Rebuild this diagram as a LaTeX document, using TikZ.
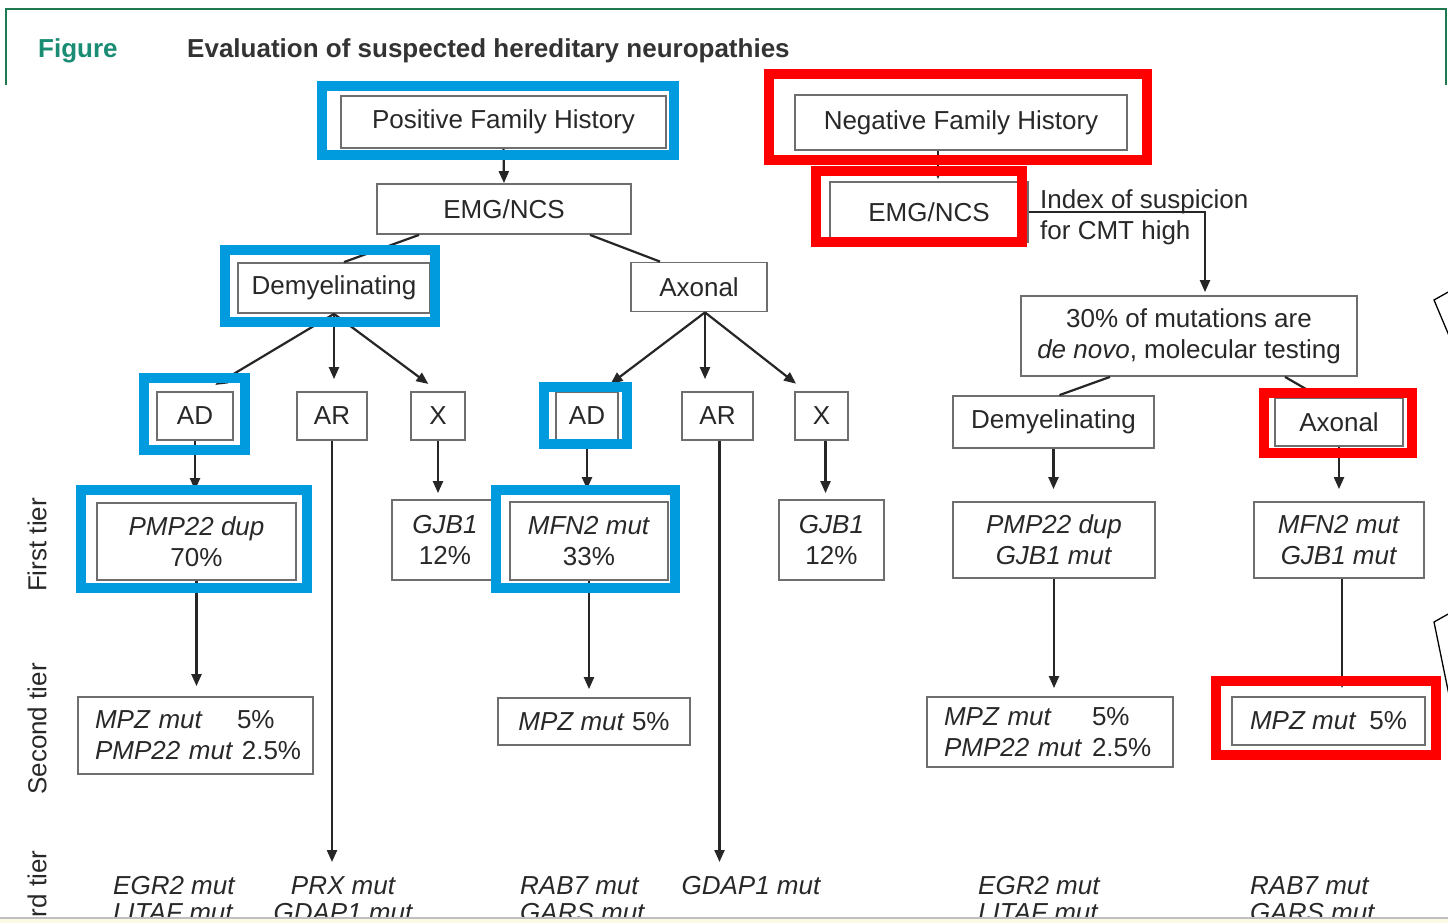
\documentclass[tikz,border=0pt]{standalone}
\usepackage{fontspec}
\setmainfont{Liberation Sans}
\usetikzlibrary{arrows.meta,calc}
\definecolor{hlblue}{RGB}{0,155,222}
\definecolor{hlred}{RGB}{255,0,0}
\definecolor{framegreen}{RGB}{30,120,80}
\definecolor{figteal}{RGB}{25,140,115}
\definecolor{boxgray}{RGB}{110,110,110}
\definecolor{txtgray}{RGB}{40,40,40}
\definecolor{stripyellow}{RGB}{252,250,228}

\begin{document}
\begin{tikzpicture}[x=1pt,y=-1pt,>={Triangle[length=12pt,width=10pt]},
  box/.style={draw=boxgray,line width=1.8pt,fill=white,text=txtgray,align=center,inner sep=0pt,font=\fontsize{26}{31}\selectfont},
  plain/.style={text=txtgray,align=left,inner sep=0pt,font=\fontsize{26}{27}\selectfont\itshape},
  tier/.style={text=txtgray,inner sep=0pt,rotate=90,font=\fontsize{26}{30}\selectfont},
  conn/.style={line width=2.2pt,black!85},
  arr/.style={conn,->,shorten >=#1},
  arr/.default=0pt,
  bluehl/.style={draw=hlblue,line width=10pt},
  redhl/.style={draw=hlred,line width=10pt}]
  \path[use as bounding box,fill=white] (0,0) rectangle (1448,923);
  \clip (0,0) rectangle (1448,923);

  \draw[framegreen,line width=2.5pt] (6,85) -- (6,9) -- (1446,9) -- (1446,85);
  \node[anchor=west,inner sep=0pt,text=figteal,font=\fontsize{26}{28}\selectfont\bfseries] (fig) at (38,51) {Figure};
  \node[anchor=west,inner sep=0pt,text=black!80,font=\fontsize{26}{28}\selectfont\bfseries] (title) at (187,51) {Evaluation of suspected hereditary neuropathies};

  \node[tier] (tier1) at (37,545) {First tier};
  \node[tier] (tier2) at (37,729) {Second tier};
  \node[tier] (tier3) at (37,902) {Third tier};

  \node[box,minimum width=325,minimum height=52] (pfh) at (503.5,122) {Positive Family History};
  \node[box,minimum width=254,minimum height=50] (emga) at (504,209) {EMG/NCS};
  \node[box,minimum width=192,minimum height=50] (dema) at (334,288) {Demyelinating};
  \node[box,minimum width=136,minimum height=49] (axa) at (699,287) {Axonal};
  \node[box,minimum width=76,minimum height=48] (ada) at (195,416) {AD};
  \node[box,minimum width=70,minimum height=48] (ara) at (332,416) {AR};
  \node[box,minimum width=54,minimum height=48] (xa) at (438,416) {X};
  \node[box,minimum width=62,minimum height=48] (adb) at (587,416) {AD};
  \node[box,minimum width=71,minimum height=48] (arb) at (717.5,416) {AR};
  \node[box,minimum width=53,minimum height=48] (xb) at (821.5,416) {X};
  \node[box,minimum width=199,minimum height=77] (pmpa) at (196.5,541.5) {\textit{PMP22 dup}\\70\%};
  \node[box,minimum width=106,minimum height=80] (gjba) at (445,540) {\textit{GJB1}\\12\%};
  \node[box,minimum width=158,minimum height=78] (mfna) at (589,541) {\textit{MFN2 mut}\\33\%};
  \node[box,minimum width=105,minimum height=80] (gjbb) at (831.5,540) {\textit{GJB1}\\12\%};
  \node[box,align=left,minimum width=235,minimum height=77,text width=201] (mpza) at (195.5,735.5) {\makebox[142pt][l]{\itshape MPZ mut}5\%\\\mbox{\textit{PMP22 mut} 2.5\%}};
  \node[box,minimum width=192,minimum height=47] (mpzb) at (594,721.5) {\textit{MPZ mut} 5\%};

  \node[box,minimum width=332,minimum height=55] (nfh) at (961,122.5) {Negative Family History};
  \node[box,minimum width=198,minimum height=60] (emgb) at (929,212) {EMG/NCS};
  \node[anchor=west,align=left,inner sep=0pt,text=txtgray,font=\fontsize{26}{31}\selectfont] (idx) at (1040,217) {Index of suspicion\\for CMT high};
  \node[box,minimum width=336,minimum height=80] (thirty) at (1189,336) {30\% of mutations are\\\textit{de novo}, molecular testing};
  \node[box,minimum width=201,minimum height=52] (demb) at (1053.5,422) {Demyelinating};
  \node[box,minimum width=128,minimum height=48] (axb) at (1339,422) {Axonal};
  \node[box,minimum width=202,minimum height=76] (pmpb) at (1054,540) {\textit{PMP22 dup}\\\textit{GJB1 mut}};
  \node[box,minimum width=170,minimum height=76] (mfnb) at (1339,540) {\textit{MFN2 mut}\\\textit{GJB1 mut}};
  \node[box,align=left,minimum width=246,minimum height=70,text width=212] (mpzc) at (1050,732) {\makebox[148pt][l]{\itshape MPZ mut}5\%\\\makebox[148pt][l]{\itshape PMP22 mut}2.5\%};
  \node[box,minimum width=193,minimum height=48] (mpzd) at (1328.5,721) {\textit{MPZ mut}\enspace 5\%};

  \node[plain,anchor=north west] (egra) at (113,876) {EGR2 mut\\LITAF mut};
  \node[plain,anchor=north,align=center] (prx) at (343,876) {PRX mut\\GDAP1 mut};
  \node[plain,anchor=north west] (raba) at (520,876) {RAB7 mut\\GARS mut};
  \node[plain,anchor=north] (gdap) at (751,876) {GDAP1 mut};
  \node[plain,anchor=north west] (egrb) at (978,876) {EGR2 mut\\LITAF mut};
  \node[plain,anchor=north west] (rabb) at (1250,876) {RAB7 mut\\GARS mut};

  \draw[arr] (pfh.south) -- (emga.north);
  \draw[conn] ([xshift=-85pt]emga.south) -- ([xshift=10pt]dema.north);
  \draw[conn] ([xshift=86pt]emga.south) -- ([xshift=-39pt]axa.north);
  \draw[arr=12pt] (dema.south) -- ([xshift=10pt]ada.north);
  \draw[arr=12pt] (dema.south) -- (dema.south |- ara.north);
  \draw[arr=12pt] (dema.south) -- (xa.north);
  \draw[arr=12pt] ([xshift=6pt]axa.south) -- ([xshift=14pt]adb.north);
  \draw[arr=12pt] ([xshift=6pt]axa.south) -- ([xshift=6pt]axa.south |- arb.north);
  \draw[arr=12pt] ([xshift=6pt]axa.south) -- ([xshift=-16pt]xb.north);
  \draw[arr=12pt] (ada.south) -- (ada.south |- pmpa.north);
  \draw[arr=6pt] (xa.south) -- (xa.south |- gjba.north);
  \draw[arr=12pt] (adb.south) -- (adb.south |- mfna.north);
  \draw[arr=6pt] ([xshift=4pt]xb.south) -- ([xshift=4pt]xb.south |- gjbb.north);
  \draw[arr=10pt] (pmpa.south) -- (pmpa.south |- mpza.north);
  \draw[arr=8pt] (mfna.south) -- (mfna.south |- mpzb.north);
  \draw[arr=14pt] (ara.south) -- (ara.south |- prx.north);
  \draw[arr=14pt] ([xshift=2pt]arb.south) -- ([xshift=2pt]arb.south |- gdap.north);

  \draw[arr=2pt] ([xshift=9pt]emgb.north |- nfh.south) -- ([xshift=9pt]emgb.north);
  \draw[arr=3pt] (emgb.east) -| ([xshift=16pt]thirty.north);
  \draw[conn] ([xshift=-79pt]thirty.south) -- ([xshift=6pt]demb.north);
  \draw[conn] ([xshift=96pt]thirty.south) -- ([xshift=-19pt]axb.north);
  \draw[arr=12pt] (demb.south) -- (demb.south |- pmpb.north);
  \draw[arr=12pt] (axb.south) -- (axb.south |- mfnb.north);
  \draw[arr=8pt] (pmpb.south) -- (pmpb.south |- mpzc.north);
  \draw[arr=8pt] ([xshift=3pt]mfnb.south) -- ([xshift=3pt]mfnb.south |- mpzd.north);

  \draw[bluehl] (322,86) rectangle (674,155);
  \draw[bluehl] (225,250) rectangle (435,322);
  \draw[bluehl] (144,378) rectangle (245,450);
  \draw[bluehl] (81,490) rectangle (307,588);
  \draw[bluehl] (544,387) rectangle (627,444);
  \draw[bluehl] (496,490) rectangle (675,588);
  \draw[redhl] (769,74) rectangle (1147,160);
  \draw[redhl] (816,171) rectangle (1022,242);
  \draw[redhl] (1264,393) rectangle (1412,453);
  \draw[redhl] (1216,681) rectangle (1436,755);

  \draw[fill=white,line width=1.3pt] (1450,291) -- (1434,300) -- (1450,338);
  \draw[fill=white,line width=1.3pt] (1450,613) -- (1434,622) -- (1450,700);

  \fill[stripyellow] (0,918) rectangle (1448,923);
  \draw[black!25,line width=2pt] (0,918) -- (1448,918);
\end{tikzpicture}
\end{document}
